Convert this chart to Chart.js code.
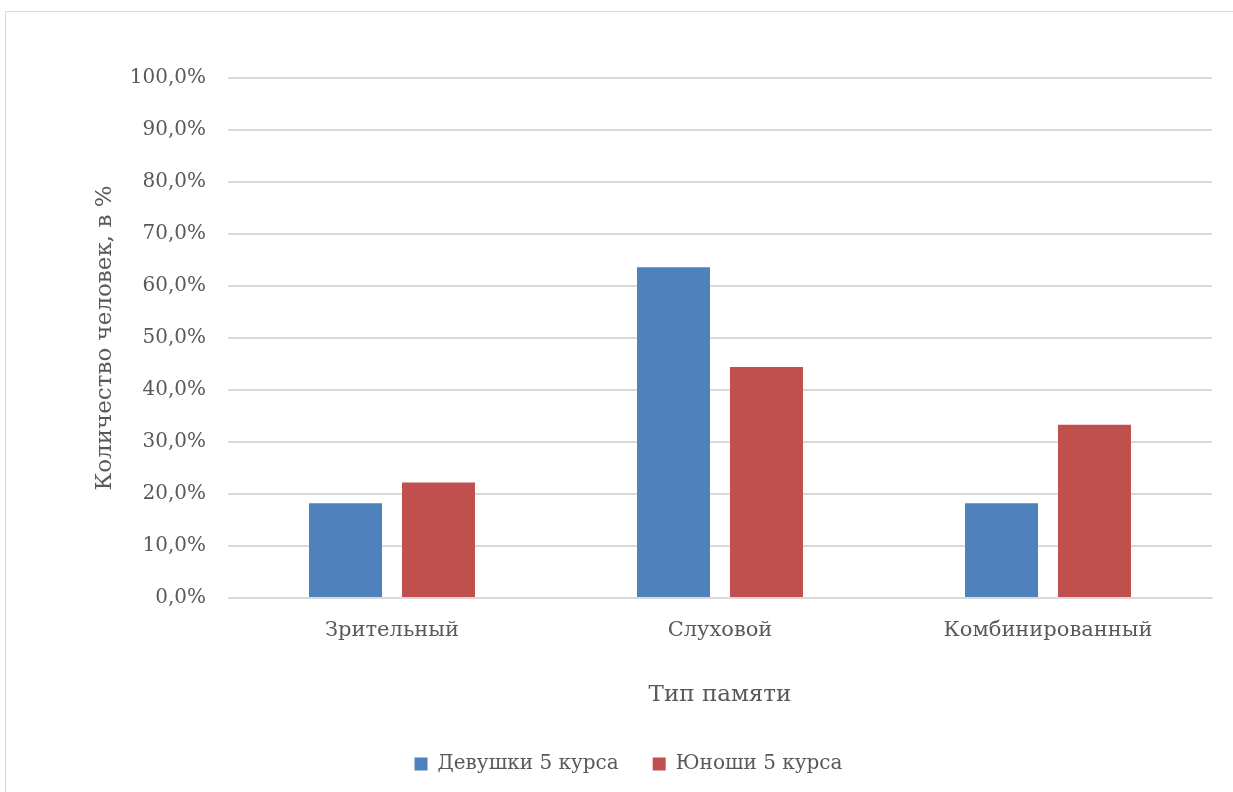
<!DOCTYPE html>
<html>
<head>
<meta charset="utf-8">
<script src="https://cdn.jsdelivr.net/npm/chart.js@4"></script>
<style>
html, body { margin: 0; padding: 0; background: #fff; }
#wrap { position: relative; width: 1233px; height: 792px; overflow: hidden; }
#frame { position: absolute; left: 5px; top: 11px; width: 1300px; height: 900px; border: 1px solid #d9d9d9; box-sizing: border-box; }
canvas { position: absolute; left: 0; top: 0; }
</style>
</head>
<body>
<div id="wrap">
  <div id="frame"></div>
  <canvas id="chart" width="1233" height="792"></canvas>
</div>
<script>
const categories = ['Зрительный', 'Слуховой', 'Комбинированный'];
const girls = [18.2, 63.6, 18.2];
const boys = [22.2, 44.4, 33.3];
const seriesNames = ['Девушки 5 курса', 'Юноши 5 курса'];

const FONT = 'DejaVu Serif';
const TEXT = '#595959';

const ctx = document.getElementById('chart').getContext('2d');
new Chart(ctx, {
    type: 'bar',
    data: {
        labels: categories,
        datasets: [
            { label: seriesNames[0], data: girls, backgroundColor: '#4f81bd' },
            { label: seriesNames[1], data: boys, backgroundColor: '#c0504d' }
        ]
    },
    options: {
        responsive: false,
        animation: false,
        categoryPercentage: 0.567,
        barPercentage: 0.785,
        layout: { padding: { left: 45, right: 21, top: 78, bottom: 8 } },
        plugins: {
            tooltip: { enabled: false },
            legend: {
                position: 'bottom',
                labels: {
                    color: TEXT,
                    font: { family: FONT, size: 20 },
                    boxWidth: 13,
                    boxHeight: 13,
                    padding: 34
                }
            }
        },
        scales: {
            x: {
                grid: { display: false },
                border: { color: '#d9d9d9' },
                ticks: { color: TEXT, font: { family: FONT, size: 21 }, padding: 12 },
                title: { display: true, text: 'Тип памяти', color: TEXT, font: { family: FONT, size: 23 }, padding: { top: 0, bottom: 11 } },
                afterFit: s => { s.height = 122; }
            },
            y: {
                min: 0,
                max: 100,
                grid: { color: '#d9d9d9', lineWidth: 2, drawTicks: false },
                border: { display: false },
                ticks: {
                    stepSize: 10,
                    color: TEXT,
                    padding: 22,
                    font: { family: FONT, size: 20 },
                    callback: v => v.toFixed(1).replace('.', ',') + '%'
                },
                title: { display: true, text: 'Количество человек, в %', color: TEXT, font: { family: FONT, size: 23 }, padding: { top: 46, bottom: 0 } },
                afterFit: s => { s.width = 183; }
            }
        }
    }
});
</script>
</body>
</html>
